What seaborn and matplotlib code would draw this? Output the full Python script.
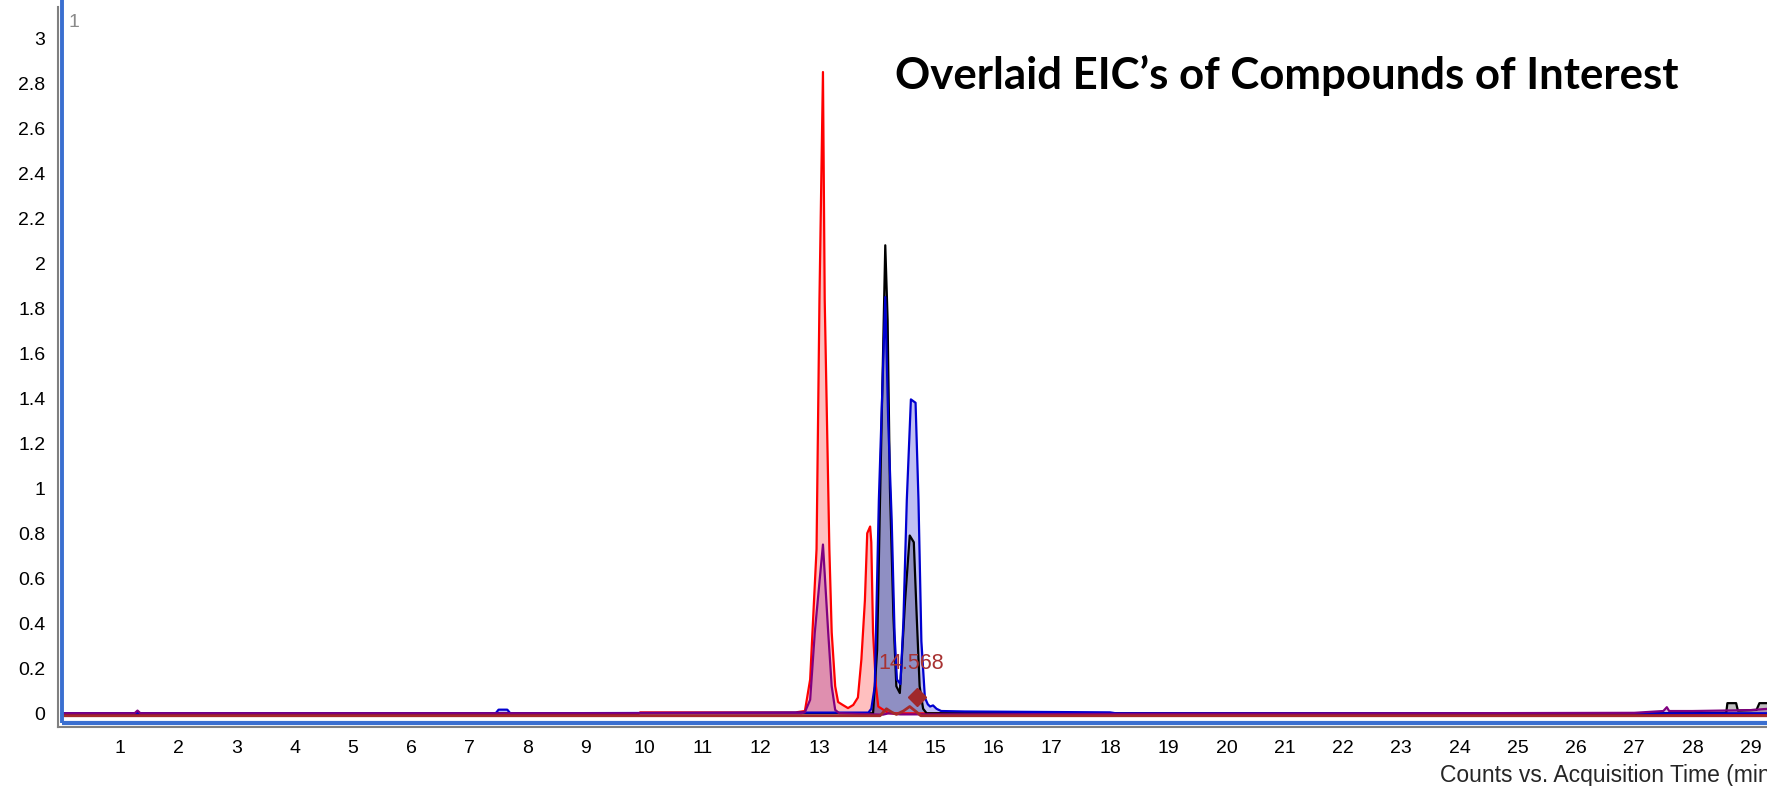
import numpy as np
import pandas as pd
import matplotlib
matplotlib.use("Agg")
import matplotlib.pyplot as plt
import seaborn as sns

# ---------------- data ----------------
red_t = [0.0, 2.2, 3.6, 6.0, 9.9, 9.93, 12.6, 12.76, 12.85, 12.96, 13.01, 13.07, 13.10,
         13.18, 13.22, 13.28, 13.33, 13.41, 13.50, 13.59, 13.67, 13.73, 13.79, 13.83,
         13.88, 13.90, 13.93, 13.98, 14.02, 14.2, 18.0, 24.0, 28.2, 29.3]
red_v = [-0.004, -0.004, -0.004, -0.004, -0.004, 0.004, 0.004, 0.01, 0.15, 0.73, 1.84, 2.85, 1.84,
         0.73, 0.36, 0.12, 0.05, 0.037, 0.023, 0.037, 0.07, 0.24, 0.5, 0.80,
         0.83, 0.76, 0.36, 0.12, 0.03, 0.0, -0.003, -0.003, -0.003, -0.003]

black_t = [0.0, 6.0, 12.0, 13.93, 14.0, 14.05, 14.14, 14.18, 14.22, 14.28, 14.33, 14.39,
           14.48, 14.56, 14.63, 14.68, 14.73, 14.79, 14.85, 20.0, 27.2, 28.58, 28.6,
           28.75, 28.78, 29.1, 29.15, 29.3]
black_v = [0.0, 0.0, 0.0, 0.0, 0.28, 0.95, 2.08, 1.75, 1.0, 0.43, 0.12, 0.09,
           0.5, 0.79, 0.76, 0.43, 0.12, 0.02, 0.0, 0.0, 0.0, 0.002, 0.045,
           0.045, 0.012, 0.015, 0.045, 0.045]

blue_t = [0.0, 7.45, 7.5, 7.65, 7.7, 12.9, 13.85, 13.90, 13.96, 14.03, 14.14, 14.19,
          14.25, 14.30, 14.34, 14.40, 14.45, 14.51, 14.58, 14.66, 14.71, 14.76, 14.82,
          14.87, 14.91, 14.96, 15.02, 15.1, 15.5, 18.0, 18.1, 29.3]
blue_v = [0.0, 0.0, 0.016, 0.016, 0.0, 0.003, 0.003, 0.02, 0.12, 0.95, 1.85, 1.3,
          0.86, 0.35, 0.15, 0.13, 0.4, 0.95, 1.395, 1.38, 0.95, 0.32, 0.07,
          0.04, 0.03, 0.035, 0.02, 0.01, 0.008, 0.004, 0.0, 0.0]

purple_t = [0.0, 1.25, 1.3, 1.35, 12.7, 12.76, 12.85, 12.93, 13.07, 13.16, 13.22, 13.28,
            13.35, 14.1, 14.2, 14.4, 27.0, 27.5, 27.56, 27.6, 28.0, 28.5, 29.0, 29.3]
purple_v = [0.0, 0.0, 0.012, 0.0, 0.0, 0.005, 0.06, 0.36, 0.75, 0.36, 0.12, 0.015,
            0.0, -0.006, 0.0, -0.005, 0.002, 0.01, 0.027, 0.01, 0.01, 0.012, 0.014, 0.02]

brown_t = [0.0, 14.05, 14.16, 14.25, 14.33, 14.45, 14.56, 14.68, 14.75, 29.3]
brown_v = [-0.011, -0.011, 0.02, 0.005, -0.005, 0.01, 0.03, 0.005, -0.011, -0.011]

apex_time_label = "14.568"
apex_marker = (14.68, 0.074)

x_ticks = list(range(1, 30))
y_ticks = [0.0, 0.2, 0.4, 0.6, 0.8, 1.0, 1.2, 1.4, 1.6, 1.8, 2.0, 2.2, 2.4, 2.6, 2.8, 3.0]

title = "Overlaid EIC\u2019s of Compounds of Interest"
x_label = "Counts vs. Acquisition Time (min)"

# ---------------- figure ----------------
sns.set_style("white")
plt.rcParams["font.family"] = ["Liberation Sans", "DejaVu Sans"]

W, H = 1767, 786
fig = plt.figure(figsize=(W / 100, H / 100), dpi=100)
ax = fig.add_axes([58 / W, (H - 727) / H, (W - 58) / W, (727 - 7) / H])

xmin, xmax = -0.065, 29.28
ymin, ymax = -0.061, 3.139
ax.set_xlim(xmin, xmax)
ax.set_ylim(ymin, ymax)

traces = [
    (red_t, red_v, "#ff0000", True),
    (black_t, black_v, "#000000", True),
    (blue_t, blue_v, "#0000d0", True),
    (purple_t, purple_v, "#800080", True),
]
for t, v, c, fill in traces:
    df = pd.DataFrame({"t": t, "v": v})
    if fill:
        ax.fill_between(df["t"], df["v"], 0, color=c, alpha=0.25, linewidth=0)
    sns.lineplot(data=df, x="t", y="v", color=c, lw=1.6, ax=ax,
                 estimator=None, sort=False)

dfb = pd.DataFrame({"t": brown_t, "v": brown_v})
sns.lineplot(data=dfb, x="t", y="v", color="#a52a2a", lw=2.0, ax=ax,
             estimator=None, sort=False)
ax.plot([apex_marker[0]], [apex_marker[1]], marker="D", ms=9, color="#a0282a",
        linestyle="none")
ax.text(14.59, 0.22, apex_time_label, color="#a83232", fontsize=15.5,
        ha="center", va="center")

# instrument-style blue frame lines
ax.plot([0.0, 0.0], [-0.043, 3.175], color="#3a6fd0", lw=2.8, clip_on=False,
        solid_capstyle="butt")
ax.plot([0.0, xmax + 0.2], [-0.043, -0.043], color="#3a6fd0", lw=3.0, clip_on=False,
        solid_capstyle="butt")

# axes styling
for s in ["top", "right"]:
    ax.spines[s].set_visible(False)
for s in ["left", "bottom"]:
    ax.spines[s].set_color("#808080")
    ax.spines[s].set_linewidth(1.5)
ax.set_xticks(x_ticks)
ax.set_xticklabels([str(x) for x in x_ticks])
ax.set_yticks(y_ticks)
ax.set_yticklabels(["%g" % y for y in y_ticks])
ax.tick_params(axis="both", which="major", direction="out", length=6, width=1.2,
               color="#606060", labelsize=14, labelcolor="black")
ax.tick_params(axis="x", pad=3.5)
ax.tick_params(axis="y", pad=3)
ax.set_xlabel("")
ax.set_ylabel("")
ax.grid(False)

fig.text(68 / W, 1 - 27 / H, "1", color="#8a8a8a", fontsize=14, va="baseline")
fig.text(895 / W, 1 - 89 / H, title, fontsize=31.5, fontweight="bold",
         family=["Lato", "DejaVu Sans"], va="baseline", ha="left", color="black")
fig.text(1440 / W, 1 - 782 / H, x_label, fontsize=16.5, va="baseline", ha="left")

fig.savefig("out.png", dpi=100)
